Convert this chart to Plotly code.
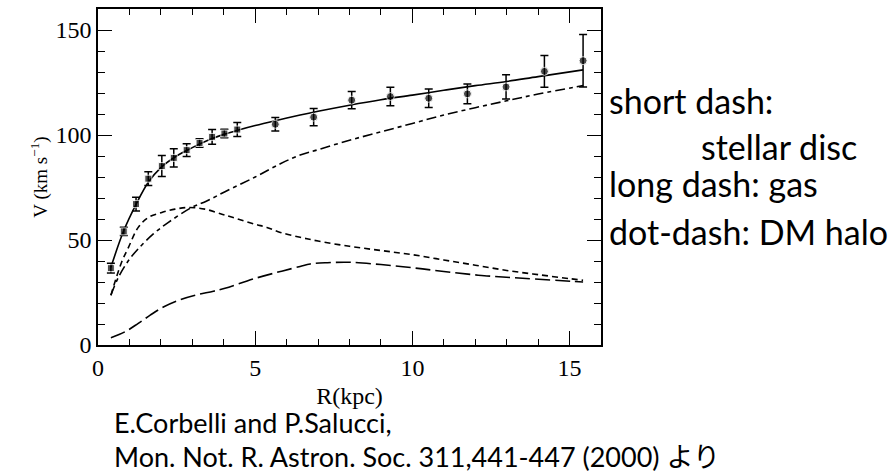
import plotly.graph_objects as go

# Observed rotation curve (M33)
obs_r = [0.41, 0.82, 1.21, 1.60, 2.03, 2.41, 2.82, 3.23, 3.63, 4.02, 4.43, 5.64,
         6.86, 8.07, 9.30, 10.52, 11.75, 12.98, 14.20, 15.43]
obs_v = [36.6, 54.1, 67.1, 79.2, 85.2, 89.1, 92.8, 96.2, 99.1, 100.7, 102.6, 105.1,
         108.5, 116.6, 118.3, 117.5, 119.6, 122.9, 130.3, 135.4]
obs_err = [2.3, 2.0, 3.3, 3.3, 5.0, 4.3, 3.0, 2.0, 3.5, 2.0, 3.3, 3.2,
           4.1, 4.1, 4.4, 4.4, 4.7, 5.8, 7.6, 12.5]
obs_symbol = ["square"] * 11 + ["circle"] * 9
obs_size = [7] * 11 + [8] * 9

# Total model fit (solid)
fit_r = [0.41, 0.82, 1.21, 1.6, 2.0, 2.5, 3.0, 3.5, 4.0, 4.5, 5.0, 5.64, 6.43, 7.0,
         8.0, 9.0, 10.0, 11.0, 12.0, 13.0, 14.0, 15.43]
fit_v = [37.0, 54.5, 67.0, 77.5, 84.5, 90.0, 94.0, 97.5, 100.3, 102.5, 104.5, 106.8,
         109.5, 111.3, 114.2, 116.8, 119.0, 121.3, 123.5, 125.5, 127.8, 131.0]

# Stellar disc (short dash)
disc_r = [0.41, 0.75, 0.97, 1.28, 1.6, 2.03, 2.45, 2.88, 3.4, 3.94, 4.3, 5.0, 5.37,
          5.8, 6.43, 7.0, 8.0, 9.0, 10.0, 11.0, 12.0, 13.0, 14.0, 15.0, 15.43]
disc_v = [23.7, 39.4, 46.5, 56.0, 60.7, 63.1, 64.7, 65.5, 64.7, 62.3, 60.7, 57.5, 56.0,
          53.6, 51.3, 49.5, 47.0, 45.0, 43.0, 40.5, 38.0, 35.5, 33.5, 31.6, 30.8]

# Gas (long dash)
gas_r = [0.41, 0.86, 1.28, 1.66, 2.08, 2.56, 3.09, 3.67, 4.04, 4.95, 5.8, 6.43, 6.75,
         7.3, 8.0, 9.0, 10.0, 11.0, 12.2, 13.5, 15.1, 15.43]
gas_v = [3.5, 6.3, 10.3, 14.2, 18.1, 21.3, 23.7, 25.6, 27.0, 31.5, 35.0, 37.4, 38.6,
         39.2, 39.4, 38.3, 36.8, 35.0, 33.1, 31.8, 30.3, 30.0]

# Dark matter halo (dot-dash)
halo_r = [0.41, 0.65, 0.97, 1.28, 1.76, 2.24, 2.98, 3.46, 4.04, 5.0, 5.8, 6.43, 7.0,
          8.0, 9.0, 10.0, 11.0, 12.0, 13.0, 14.0, 15.43]
halo_v = [23.7, 32.3, 40.2, 45.8, 52.9, 58.4, 65.5, 68.6, 73.0, 80.0, 86.3, 90.5, 93.0,
          97.5, 101.5, 105.5, 109.5, 113.0, 116.3, 119.5, 123.5]

x_ticks = [0, 5, 10, 15]
y_ticks = [0, 50, 100, 150]

fig = go.Figure()

fig.add_trace(go.Scatter(x=fit_r, y=fit_v, mode="lines",
                         line=dict(color="black", width=1.6), line_shape="spline",
                         name="fit"))
fig.add_trace(go.Scatter(x=disc_r, y=disc_v, mode="lines",
                         line=dict(color="black", width=1.6, dash="6px,4px"),
                         line_shape="spline", name="stellar disc"))
fig.add_trace(go.Scatter(x=gas_r, y=gas_v, mode="lines",
                         line=dict(color="black", width=1.6, dash="15px,5px"),
                         line_shape="spline", name="gas"))
fig.add_trace(go.Scatter(x=halo_r, y=halo_v, mode="lines",
                         line=dict(color="black", width=1.6, dash="10px,4px,4px,4px"),
                         line_shape="spline", name="DM halo"))
fig.add_trace(go.Scatter(x=obs_r, y=obs_v, mode="markers",
                         marker=dict(color="black", size=obs_size, symbol=obs_symbol),
                         error_y=dict(type="data", array=obs_err, color="black",
                                      thickness=1.5, width=4),
                         name="data"))

serif = "Liberation Serif, serif"
axis_common = dict(showgrid=False, zeroline=False, showline=True, linecolor="black",
                   linewidth=1.6, mirror="ticks", ticks="inside", tickcolor="black",
                   tickwidth=1.3, ticklen=14,
                   tickfont=dict(family=serif, size=24, color="black"))

fig.update_xaxes(range=[0, 16], tickvals=x_ticks, **axis_common,
                 minor=dict(dtick=1, ticks="inside", ticklen=6, tickcolor="black",
                            tickwidth=1.3),
                 title=dict(text="R(kpc)", font=dict(family=serif, size=24,
                                                     color="black"), standoff=8))
fig.update_yaxes(range=[0, 160], tickvals=y_ticks, **axis_common,
                 ticksuffix="\u2009",
                 minor=dict(dtick=10, ticks="inside", ticklen=7, tickcolor="black",
                            tickwidth=1.3),
                 title=dict(text="V (km s<sup>−1</sup>)",
                            font=dict(family=serif, size=19, color="black"),
                            standoff=3))

W, H = 894, 472
L, R, T, B = 98, 293, 7, 127
pw, ph = W - L - R, H - T - B


def px(xp):
    return (xp - L) / pw


def py(yp):
    return (H - B - yp) / ph


label_font = dict(family="Lato, 'Noto Sans CJK JP', sans-serif", size=34, color="black")
cite_font = dict(family="Lato, 'Noto Sans CJK JP', sans-serif", size=27, color="black")
texts = [
    ("short dash:", 607, 99, label_font),
    ("stellar disc", 699, 145, label_font),
    ("long dash: gas", 607, 183, label_font),
    ("dot-dash: DM halo", 607, 231, label_font),
    ("E.Corbelli and P.Salucci,", 112, 423, cite_font),
    ("Mon. Not. R. Astron. Soc. 311,441-447 (2000) より", 112, 457, cite_font),
]
for t, xp, yp, f in texts:
    fig.add_annotation(text=t, xref="paper", yref="paper", x=px(xp), y=py(yp),
                       xanchor="left", yanchor="middle", showarrow=False, font=f)

fig.update_layout(width=W, height=H, margin=dict(l=L, r=R, t=T, b=B),
                  paper_bgcolor="white", plot_bgcolor="white", showlegend=False)

fig.write_html("out.html", config={"displayModeBar": False},
               post_script="document.body.style.margin='0px';"
                           "document.body.style.overflow='hidden';")
